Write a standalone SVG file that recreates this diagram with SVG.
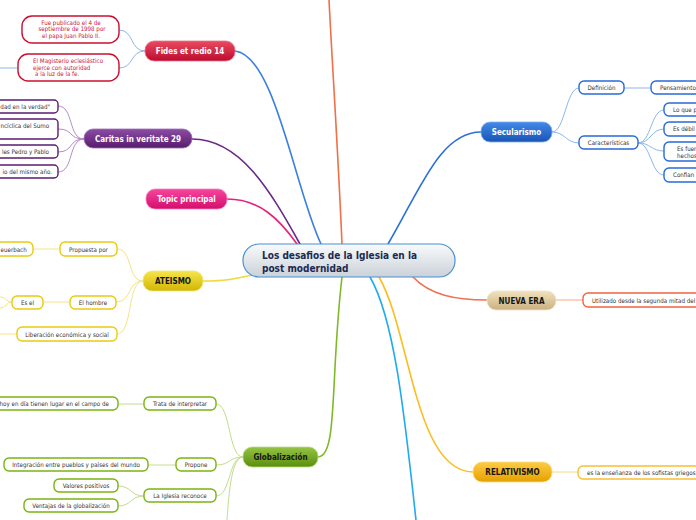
<svg xmlns="http://www.w3.org/2000/svg" width="696" height="520" viewBox="0 0 696 520">
<defs>
<linearGradient id="gRed" x1="0" y1="0" x2="0" y2="1"><stop offset="0" stop-color="#ea4a62"/><stop offset="1" stop-color="#bc0c2e"/></linearGradient>
<linearGradient id="gPurple" x1="0" y1="0" x2="0" y2="1"><stop offset="0" stop-color="#8c4ca4"/><stop offset="1" stop-color="#571c6e"/></linearGradient>
<linearGradient id="gPink" x1="0" y1="0" x2="0" y2="1"><stop offset="0" stop-color="#f6469e"/><stop offset="1" stop-color="#d40e6c"/></linearGradient>
<linearGradient id="gYellow" x1="0" y1="0" x2="0" y2="1"><stop offset="0" stop-color="#f6e44a"/><stop offset="1" stop-color="#d2b604"/></linearGradient>
<linearGradient id="gGreen" x1="0" y1="0" x2="0" y2="1"><stop offset="0" stop-color="#94c444"/><stop offset="1" stop-color="#5c8e0e"/></linearGradient>
<linearGradient id="gBlue" x1="0" y1="0" x2="0" y2="1"><stop offset="0" stop-color="#438ae8"/><stop offset="1" stop-color="#1854b6"/></linearGradient>
<linearGradient id="gTan" x1="0" y1="0" x2="0" y2="1"><stop offset="0" stop-color="#f0e2be"/><stop offset="1" stop-color="#cbb080"/></linearGradient>
<linearGradient id="gOrange" x1="0" y1="0" x2="0" y2="1"><stop offset="0" stop-color="#fdcc44"/><stop offset="1" stop-color="#e6a000"/></linearGradient>
<linearGradient id="gCenter" x1="0" y1="0" x2="0" y2="1"><stop offset="0" stop-color="#f9fbfc"/><stop offset="1" stop-color="#cad1d8"/></linearGradient>
</defs>
<style>
text{font-family:"DejaVu Sans Condensed","Liberation Sans",sans-serif}
.main{font-size:8px;font-weight:bold;text-anchor:middle}
.w{fill:#ffffff}
.k{fill:#151515}
.sub{font-size:6.2px;fill:#333333}
.c{text-anchor:middle}
.e{text-anchor:end}
.mc{fill:none;stroke-width:1.6;stroke-linecap:round}
.sc{fill:none;stroke-width:1}
.sb{fill:#ffffff;stroke-width:1.4}
</style>

<g id="connectors">
<path class="mc" d="M321,244 C295,190 275,55 235,51" stroke="#3a80e0"/>
<path class="mc" d="M342,244 C338,150 332,60 329,0" stroke="#f07048"/>
<path class="mc" d="M300,244 C270,190 240,139 192,139" stroke="#6a2a88"/>
<path class="mc" d="M297,244 C280,220 260,199 227,199" stroke="#e8207a"/>
<path class="mc" d="M252,275 C235,279 225,281 203,281" stroke="#f0d840"/>
<path class="mc" d="M342,277 C330,380 338,457 318,457" stroke="#80b828"/>
<path class="mc" d="M370,277 C395,320 405,420 416,520" stroke="#20aaf0" stroke-width="2"/>
<path class="mc" d="M379,277 C410,330 415,472 473,472" stroke="#fbbd20"/>
<path class="mc" d="M413,277 C430,295 455,300 487,300" stroke="#f07050"/>
<path class="mc" d="M388,244 C420,190 440,132 481,132" stroke="#2a70d8"/>

<g stroke="#8cb6ec">
<path class="sc" d="M145,51 C130,51 134,30 119,30"/>
<path class="sc" d="M145,51 C130,51 134,68 119,68"/>
<path class="sc" d="M18,68 L0,68"/>
</g>
<g stroke="#b48cc8">
<path class="sc" d="M84,139 C68,139 74,106 58,106"/>
<path class="sc" d="M84,139 C68,139 74,129 58,129"/>
<path class="sc" d="M84,139 C68,139 74,152 58,152"/>
<path class="sc" d="M84,139 C68,139 74,172 58,172"/>
</g>
<g stroke="#f2e48c">
<path class="sc" d="M143,281 C127,281 133,249 117,249"/>
<path class="sc" d="M143,281 C127,281 132,302 116,302"/>
<path class="sc" d="M143,281 C127,281 133,334 117,334"/>
<path class="sc" d="M60,249 L33,249"/>
<path class="sc" d="M70,302 L43,302"/>
<path class="sc" d="M12,302 C6,302 6,297 0,297"/>
<path class="sc" d="M12,302 C6,302 6,308 0,308"/>
<path class="sc" d="M17,334 L0,334"/>
</g>
<g stroke="#c2dc90">
<path class="sc" d="M243,457 C228,457 231,404 216,404"/>
<path class="sc" d="M243,457 C228,457 231,465 216,465"/>
<path class="sc" d="M243,457 C228,457 231,496 216,496"/>
<path class="sc" d="M243,457 C232,457 229,490 227,520"/>
<path class="sc" d="M144,404 L118,404"/>
<path class="sc" d="M176,465 L148,465"/>
<path class="sc" d="M144,496 C130,496 132,486 118,486"/>
<path class="sc" d="M144,496 C130,496 132,506 118,506"/>
</g>
<g stroke="#8cb6ec">
<path class="sc" d="M552,132 C565,132 566,88 579,88"/>
<path class="sc" d="M552,132 C565,132 566,143 579,143"/>
<path class="sc" d="M624,88 L651,88"/>
<path class="sc" d="M638,143 C651,143 651,110 664,110"/>
<path class="sc" d="M638,143 C651,143 651,129 664,129"/>
<path class="sc" d="M638,143 C651,143 651,151 664,151"/>
<path class="sc" d="M638,143 C651,143 651,175 664,175"/>
</g>
<path class="sc" d="M556,300 L583,300" stroke="#f8a888"/>
<path class="sc" d="M552,472 L578,472" stroke="#fcd880"/>
</g>

<g id="center">
<rect x="243" y="244" width="212" height="33" rx="16" fill="url(#gCenter)" stroke="#4a90d4" stroke-width="1.2"/>
<text x="262" y="259" style="font-size:10px;font-weight:bold;fill:#1a2a52">Los desafios de la Iglesia en la</text>
<text x="262" y="271.5" style="font-size:10px;font-weight:bold;fill:#1a2a52">post modernidad</text>
</g>

<g id="fides">
<rect x="145" y="41" width="90" height="20" rx="9" fill="url(#gRed)" stroke="#e8768a" stroke-width="0.8"/>
<text class="main w" x="190" y="54">Fides et redio 14</text>
</g>
<g id="fides-1">
<rect class="sb" x="22" y="16" width="97" height="27" rx="10" stroke="#c8102e"/>
<text class="sub c" x="71" y="24.5" style="fill:#c8183c">Fue publicado el 4 de</text>
<text class="sub c" x="72" y="31" style="fill:#c8183c">septiembre de 1998 por</text>
<text class="sub c" x="71" y="37.5" style="fill:#c8183c">el papa Juan Pablo II.</text>
</g>
<g id="fides-2">
<rect class="sb" x="18" y="54" width="101" height="27" rx="10" stroke="#c8102e"/>
<text class="sub" x="33" y="63" style="fill:#c8183c">El Magisterio eclesiástico</text>
<text class="sub" x="33" y="69.5" style="fill:#c8183c">ejerce con autoridad</text>
<text class="sub" x="35" y="76" style="fill:#c8183c">a la luz de la fe.</text>
</g>

<g id="caritas">
<rect x="84" y="129" width="108" height="19" rx="9" fill="url(#gPurple)" stroke="#a070b8" stroke-width="0.8"/>
<text class="main w" x="138" y="141.5">Caritas in veritate 29</text>
</g>
<g id="caritas-1">
<rect class="sb" x="-10" y="100" width="68" height="13" rx="4" stroke="#5a1c70"/>
<text class="sub e" x="50" y="109">dad en la verdad"</text>
</g>
<g id="caritas-2">
<rect class="sb" x="-10" y="119" width="68" height="20" rx="4" stroke="#5a1c70"/>
<text class="sub" x="0.5" y="127.5">ncíclica del Sumo</text>
</g>
<g id="caritas-3">
<rect class="sb" x="-10" y="145" width="68" height="13" rx="4" stroke="#5a1c70"/>
<text class="sub e" x="49" y="154">les Pedro y Pablo</text>
</g>
<g id="caritas-4">
<rect class="sb" x="-10" y="165" width="68" height="13" rx="4" stroke="#5a1c70"/>
<text class="sub e" x="52" y="174">io del mismo año.</text>
</g>

<g id="topic">
<rect x="146" y="189" width="81" height="20" rx="9" fill="url(#gPink)" stroke="#f884bc" stroke-width="0.8"/>
<text class="main w" x="186.5" y="202">Topic principal</text>
</g>

<g id="ateismo">
<rect x="143" y="271" width="60" height="20" rx="9" fill="url(#gYellow)" stroke="#f4e680" stroke-width="0.8"/>
<text class="main k" x="173" y="284">ATEISMO</text>
</g>
<g id="ateismo-1">
<rect class="sb" x="60" y="242" width="57" height="14" rx="5" stroke="#e8cc10"/>
<text class="sub c" x="88.5" y="251.5">Propuesta por</text>
</g>
<g id="ateismo-1a">
<rect class="sb" x="-10" y="242" width="43" height="14" rx="5" stroke="#e8cc10"/>
<text class="sub" x="0.5" y="251.5">euerbach</text>
</g>
<g id="ateismo-2">
<rect class="sb" x="70" y="296" width="46" height="13" rx="5" stroke="#e8cc10"/>
<text class="sub c" x="93" y="304.5">El hombre</text>
</g>
<g id="ateismo-2a">
<rect class="sb" x="12" y="296" width="31" height="13" rx="5" stroke="#e8cc10"/>
<text class="sub c" x="27.5" y="304.5">Es el</text>
</g>
<g id="ateismo-3">
<rect class="sb" x="17" y="327" width="100" height="14" rx="5" stroke="#e8cc10"/>
<text class="sub c" x="67" y="336.5">Liberación económica y social</text>
</g>

<g id="globalizacion">
<rect x="243" y="447" width="75" height="20" rx="9" fill="url(#gGreen)" stroke="#b8dc84" stroke-width="0.8"/>
<text class="main k" x="280.5" y="460">Globalización</text>
</g>
<g id="glob-1">
<rect class="sb" x="144" y="397" width="72" height="13" rx="5" stroke="#7ab412"/>
<text class="sub c" x="180" y="405.5">Trata de interpretar</text>
</g>
<g id="glob-1a">
<rect class="sb" x="-10" y="397" width="128" height="13" rx="5" stroke="#7ab412"/>
<text class="sub e" x="109" y="405.5">hoy en día tienen lugar en el campo de</text>
</g>
<g id="glob-2">
<rect class="sb" x="176" y="458" width="40" height="13" rx="5" stroke="#7ab412"/>
<text class="sub c" x="196" y="466.5">Propone</text>
</g>
<g id="glob-2a">
<rect class="sb" x="4" y="458" width="144" height="13" rx="5" stroke="#7ab412"/>
<text class="sub c" x="76" y="466.5">Integración entre pueblos y países del mundo</text>
</g>
<g id="glob-3">
<rect class="sb" x="144" y="489" width="72" height="13" rx="5" stroke="#7ab412"/>
<text class="sub c" x="180" y="497.5">La Iglesia reconoce</text>
</g>
<g id="glob-3a">
<rect class="sb" x="54" y="479" width="64" height="13" rx="5" stroke="#7ab412"/>
<text class="sub c" x="86" y="487.5">Valores positivos</text>
</g>
<g id="glob-3b">
<rect class="sb" x="24" y="499" width="94" height="13" rx="5" stroke="#7ab412"/>
<text class="sub c" x="71" y="507.5">Ventajas de la globalización</text>
</g>

<g id="secularismo">
<rect x="481" y="122" width="71" height="20" rx="9" fill="url(#gBlue)" stroke="#80aef0" stroke-width="0.8"/>
<text class="main w" x="516.5" y="135">Secularismo</text>
</g>
<g id="sec-1">
<rect class="sb" x="579" y="81" width="45" height="13" rx="5" stroke="#2a6ad8"/>
<text class="sub c" x="601.5" y="89.5">Definición</text>
</g>
<g id="sec-1a">
<rect class="sb" x="651" y="81" width="60" height="13" rx="5" stroke="#2a6ad8"/>
<text class="sub" x="660" y="89.5">Pensamiento</text>
</g>
<g id="sec-2">
<rect class="sb" x="579" y="136" width="59" height="13" rx="5" stroke="#2a6ad8"/>
<text class="sub c" x="608.5" y="144.5">Características</text>
</g>
<g id="sec-2a">
<rect class="sb" x="664" y="103" width="50" height="13" rx="5" stroke="#2a6ad8"/>
<text class="sub" x="673" y="111.5">Lo que p</text>
</g>
<g id="sec-2b">
<rect class="sb" x="664" y="122" width="50" height="14" rx="5" stroke="#2a6ad8"/>
<text class="sub" x="673" y="131">Es débil</text>
</g>
<g id="sec-2c">
<rect class="sb" x="664" y="142" width="50" height="19" rx="5" stroke="#2a6ad8"/>
<text class="sub" x="677" y="150.5">Es fuer</text>
<text class="sub" x="677" y="158">hechos</text>
</g>
<g id="sec-2d">
<rect class="sb" x="664" y="168" width="50" height="14" rx="5" stroke="#2a6ad8"/>
<text class="sub" x="673" y="177">Confian</text>
</g>

<g id="nueva-era">
<rect x="487" y="291" width="69" height="19" rx="9" fill="url(#gTan)" stroke="#f0e4c4" stroke-width="0.8"/>
<text class="main k" x="521.5" y="303.5">NUEVA ERA</text>
</g>
<g id="nueva-1">
<rect class="sb" x="583" y="293" width="130" height="14" rx="5" stroke="#f06440"/>
<text class="sub" x="592" y="302.5">Utilizado desde la segunda mitad del</text>
</g>

<g id="relativismo">
<rect x="473" y="462" width="79" height="20" rx="9" fill="url(#gOrange)" stroke="#fde08c" stroke-width="0.8"/>
<text class="main k" x="512.5" y="475">RELATIVISMO</text>
</g>
<g id="rel-1">
<rect class="sb" x="578" y="466" width="130" height="13" rx="5" stroke="#f8c030"/>
<text class="sub" x="587" y="474.5">es la enseñanza de los sofistas griegos</text>
</g>
</svg>
